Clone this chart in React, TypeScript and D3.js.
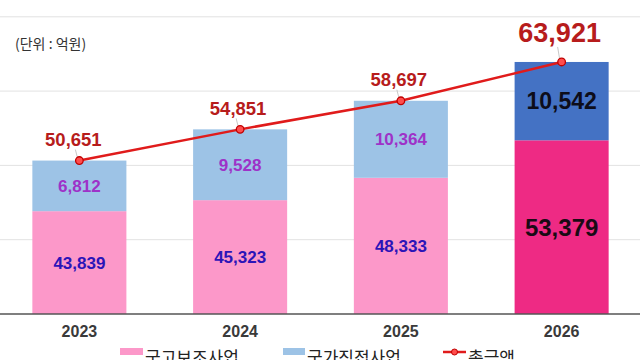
import React from "react";
import * as d3 from "d3";

const years = ["2023", "2024", "2025", "2026"];
const subsidy = [43839, 45323, 48333, 53379];
const direct = [6812, 9528, 10364, 10542];
const totals = [50651, 54851, 58697, 63921];
const gridTicks = [40000, 50000, 60000, 70000];
const legendLabels = ["국고보조사업", "국가직접사업", "총금액"];
const unitLabel = "(단위 : 억원)";

const W = 640;
const H = 360;
const FONT = "'Liberation Sans', Arial, 'Noto Sans CJK KR', sans-serif";
const KFONT = "'Noto Sans CJK KR', 'Liberation Sans', sans-serif";
const fmt = d3.format(",");

export default function App() {
  const x = d3.scaleBand<string>().domain(years).range([-1, 642]).paddingInner(0.415).paddingOuter(0.2075);
  const y = d3.scaleLinear().domain([30000, 70000]).range([314, 16.8]);
  const bw = x.bandwidth();
  const cx = (yr: string) => (x(yr) as number) + bw / 2;
  const last = years.length - 1;

  const pinkColor = (i: number) => (i === last ? "#ee2a84" : "#fc98c9");
  const blueColor = (i: number) => (i === last ? "#4472c4" : "#9dc3e6");

  const line = d3
    .line<number>()
    .x((_, i) => cx(years[i]))
    .y((d) => y(d));

  return (
    <div style={{ position: "absolute", left: 0, top: 0 }}>
      <svg width={W} height={H} style={{ display: "block", background: "#fff" }}>
        {gridTicks.map((t) => (
          <line key={t} x1={0} x2={W} y1={y(t)} y2={y(t)} stroke="#e2e2e2" strokeWidth={1} />
        ))}
        <text x={15} y={49} fontFamily={KFONT} fontSize={14} fill="#333">
          {unitLabel}
        </text>

        {years.map((yr, i) => (
          <g key={yr}>
            <rect x={x(yr)} y={y(subsidy[i])} width={bw} height={y(30000) - y(subsidy[i])} fill={pinkColor(i)} />
            <rect
              x={x(yr)}
              y={y(totals[i])}
              width={bw}
              height={y(subsidy[i]) - y(totals[i])}
              fill={blueColor(i)}
            />
          </g>
        ))}

        <line x1={0} x2={W} y1={y(30000)} y2={y(30000)} stroke="#555" strokeWidth={1.5} />

        {years.map((yr, i) => {
          const big = i === last;
          const pinkMid = (y(30000) + y(subsidy[i])) / 2;
          const blueMid = (y(subsidy[i]) + y(totals[i])) / 2;
          return (
            <g key={"lab" + yr} fontFamily={FONT} fontWeight="bold" textAnchor="middle">
              <text
                x={cx(yr)}
                y={pinkMid}
                dy="0.36em"
                fontSize={big ? 24 : 17}
                fill={big ? "#1a0a14" : "#2b14b8"}
              >
                {fmt(subsidy[i])}
              </text>
              <text
                x={cx(yr)}
                y={blueMid}
                dy="0.36em"
                fontSize={big ? 23 : 17}
                fill={big ? "#0d0d1a" : "#9e32c8"}
              >
                {fmt(direct[i])}
              </text>
              <text x={cx(yr)} y={337} fontSize={16} fill="#3a3a3a">
                {yr}
              </text>
            </g>
          );
        })}

        <path d={line(totals) || ""} fill="none" stroke="#e01b1b" strokeWidth={2.5} />
        {years.map((yr, i) => {
          const big = i === last;
          const py = y(totals[i]);
          return (
            <g key={"tot" + yr}>
              <line x1={cx(yr) - 2} x2={cx(yr) - 4} y1={py - 3} y2={py - (big ? 15 : 11)} stroke="#c8c8c8" strokeWidth={1} />
              <circle cx={cx(yr)} cy={py} r={3.8} fill="#ff4d4d" stroke="#c00000" strokeWidth={1.3} />
              <text
                x={cx(yr) - (i === 0 ? 6 : 2)}
                y={py - (big ? 20 : 14.5)}
                textAnchor="middle"
                fontFamily={FONT}
                fontWeight="bold"
                fontSize={big ? 27 : 18.5}
                fill="#b71c1c"
              >
                {fmt(totals[i])}
              </text>
            </g>
          );
        })}

        <g fontFamily={KFONT} fontSize={17} fill="#222">
          <rect x={120} y={348} width={23} height={7} fill="#fc98c9" />
          <text x={145} y={364}>{legendLabels[0]}</text>
          <rect x={283} y={348} width={22} height={7} fill="#9dc3e6" />
          <text x={307} y={364}>{legendLabels[1]}</text>
          <line x1={443} x2={466} y1={352} y2={352} stroke="#e01b1b" strokeWidth={2.5} />
          <circle cx={454.5} cy={352} r={3} fill="#ff4d4d" stroke="#c00000" strokeWidth={1} />
          <text x={468} y={364}>{legendLabels[2]}</text>
        </g>
      </svg>
    </div>
  );
}
